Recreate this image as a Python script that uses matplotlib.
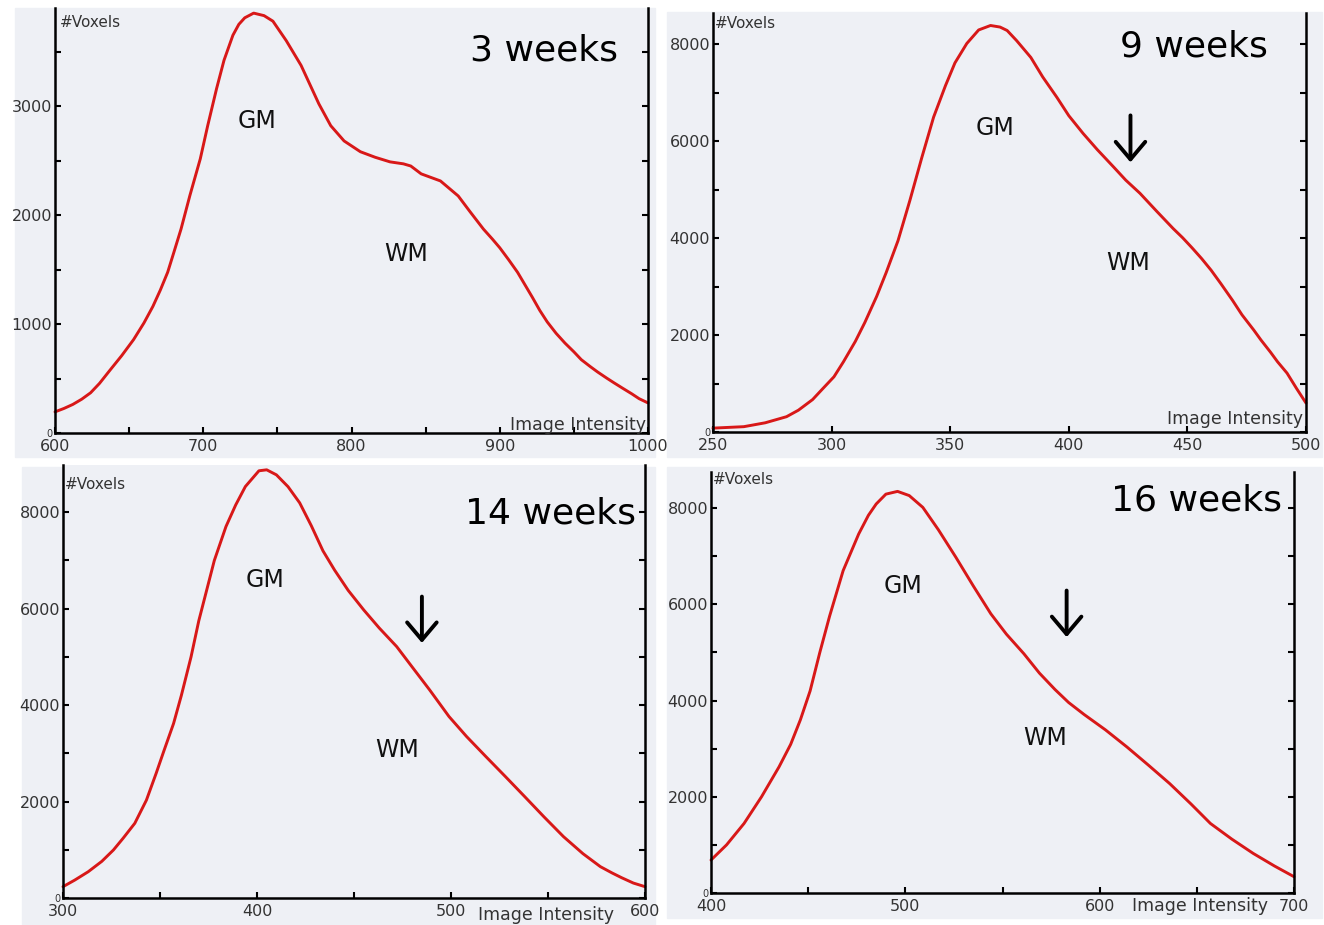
### FOUR VOXEL INTENSITY HISTOGRAMS (3, 9, 14, 16 WEEKS)

import matplotlib
matplotlib.use('Agg')
from matplotlib import pyplot as plt
from matplotlib.patches import Rectangle
from matplotlib.ticker import MultipleLocator


## DATA
# 3 weeks
x_3wk = [600, 606, 612, 618, 624, 630, 637, 645, 653, 660, 666, 671, 676, 680, 685, 691,
         698, 703, 709, 714, 720, 724, 728, 734, 741, 747, 756, 766, 778, 786, 795, 806,
         816, 826, 835, 840, 847, 860, 872, 880, 889, 895, 900, 906, 912, 917, 922, 927,
         932, 938, 944, 950, 955, 961, 966, 972, 977, 983, 989, 994, 1000]
y_3wk = [194, 225, 262, 310, 369, 455, 575, 710, 857, 1010, 1161, 1310, 1475, 1650, 1871, 2180,
         2516, 2820, 3161, 3420, 3650, 3750, 3810, 3853, 3830, 3779, 3600, 3373, 3020, 2820, 2680, 2581,
         2530, 2488, 2470, 2450, 2378, 2313, 2175, 2030, 1871, 1780, 1700, 1590, 1475, 1360, 1245, 1125,
         1020, 915, 825, 745, 673, 610, 560, 505, 461, 410, 360, 315, 276]

# 9 weeks
x_9wk = [250, 263, 272, 281, 286, 292, 296, 301, 305, 310, 314, 319, 323, 328, 333, 338,
         343, 348, 352, 357, 362, 367, 371, 374, 378, 384, 389, 395, 400, 406, 412, 419,
         424, 430, 437, 444, 448, 452, 456, 460, 464, 469, 473, 478, 481, 485, 488, 492,
         496, 500]
y_9wk = [80, 110, 190, 316, 450, 670, 880, 1140, 1450, 1870, 2260, 2800, 3290, 3950, 4780, 5660,
         6500, 7150, 7620, 8021, 8300, 8392, 8360, 8289, 8080, 7732, 7330, 6907, 6530, 6165, 5830, 5465,
         5200, 4928, 4560, 4200, 4010, 3800, 3580, 3340, 3070, 2720, 2420, 2103, 1900, 1650, 1450, 1216,
         900, 598]

# 14 weeks
x_14wk = [300, 306, 313, 320, 326, 331, 337, 343, 348, 352, 357, 361, 366, 370, 378, 384,
          389, 394, 401, 405, 410, 416, 422, 428, 434, 440, 447, 455, 463, 472, 480, 489,
          499, 508, 518, 528, 538, 548, 558, 568, 577, 583, 588, 594, 600]
y_14wk = [235, 370, 545, 760, 996, 1240, 1549, 2030, 2584, 3050, 3620, 4200, 5000, 5750, 7000, 7703,
          8150, 8533, 8860, 8880, 8776, 8530, 8195, 7720, 7200, 6800, 6380, 5975, 5600, 5214, 4790, 4315,
          3762, 3350, 2932, 2520, 2102, 1680, 1272, 920, 650, 520, 420, 310, 235]

# 16 weeks
x_16wk = [400, 408, 417, 426, 435, 441, 446, 451, 456, 461, 468, 476, 481, 485, 490, 496,
          502, 509, 517, 526, 535, 544, 552, 561, 569, 577, 584, 592, 603, 614, 625, 636,
          647, 657, 668, 679, 690, 700]
y_16wk = [685, 1000, 1445, 2000, 2621, 3090, 3600, 4200, 5000, 5750, 6700, 7462, 7850, 8085, 8290, 8347,
          8260, 8015, 7550, 6978, 6380, 5803, 5380, 4973, 4570, 4230, 3960, 3710, 3390, 3036, 2660, 2275,
          1850, 1445, 1120, 823, 560, 339]

titles = ['3 weeks', '9 weeks', '14 weeks', '16 weeks']
ylabel = '#Voxels'
xlabel = 'Image Intensity'


## LAYOUT (pixel boxes measured from the 1324x925 picture)
W, H = 1324, 925
BG = '#eef0f5'
RED = '#d81818'
TXT = '#333333'

panels = [
    dict(x=x_3wk, y=y_3wk, box=(55, 648, 8, 433), bg=(15, 655, 8, 457),
         xlim=(600, 1000), xmaj=100, xmin=50, ylim=(0, 3900), ymaj=1000, ymin=500, ymax_lab=3000,
         title=(0.95, 0.90), gm=(736, 2866), wm=(837, 1640), arrow=None,
         xlab=(0.997, 0.02, 'right', 'center'), vox=(0.008, 0.967)),
    dict(x=x_9wk, y=y_9wk, box=(713, 1306, 13, 432), bg=(667, 1322, 12, 457),
         xlim=(250, 500), xmaj=50, xmin=None, ylim=(0, 8650), ymaj=2000, ymin=1000, ymax_lab=8000,
         title=(0.936, 0.92), gm=(369, 6268), wm=(425, 3485), arrow=(426, 6536, 5567),
         xlab=(0.995, 0.03, 'right', 'center'), vox=(0.004, 0.976)),
    dict(x=x_14wk, y=y_14wk, box=(63, 645, 465, 898), bg=(22, 655, 467, 925),
         xlim=(300, 600), xmaj=100, xmin=50, ylim=(0, 8980), ymaj=2000, ymin=1000, ymax_lab=8000,
         title=(0.985, 0.889), gm=(404, 6597), wm=(472, 3070), arrow=(485, 6251, 5290),
         xlab=(0.83, -0.039, 'center', 'center'), vox=(0.004, 0.956)),
    dict(x=x_16wk, y=y_16wk, box=(711, 1294, 472, 893), bg=(667, 1322, 467, 918),
         xlim=(400, 700), xmaj=100, xmin=50, ylim=(0, 8750), ymaj=2000, ymin=1000, ymax_lab=8000,
         title=(0.979, 0.933), gm=(499, 6390), wm=(572, 3216), arrow=(583, 6286, 5318),
         xlab=(0.839, -0.031, 'center', 'center'), vox=(0.003, 0.981)),
]


def toFig(box):
    '''
    Converts a pixel box (left, right, top, bottom) into figure fractions
    :param box: pixel box
    :return: [left, bottom, width, height]
    '''
    l, r, t, b = box
    return [l / W, 1 - b / H, (r - l) / W, (b - t) / H]


def drawPanel(fig, p, title):
    '''
    Draws one histogram panel
    :param fig: the figure
    :param p: dict with data and layout of the panel
    :param title: big label in the corner
    '''
    # gray backdrop behind axis + tick labels
    bg = toFig(p['bg'])
    fig.patches.append(Rectangle(bg[:2], bg[2], bg[3], transform=fig.transFigure,
                                 color=BG, zorder=-10))

    ax = fig.add_axes(toFig(p['box']))
    ax.set_facecolor(BG)
    ax.plot(p['x'], p['y'], color=RED, lw=2.1, solid_joinstyle='round',
            solid_capstyle='round', clip_on=False)

    ax.set_xlim(*p['xlim'])
    ax.set_ylim(*p['ylim'])

    # spines: left, right, bottom only
    ax.spines['top'].set_visible(False)
    for s in ['left', 'right', 'bottom']:
        ax.spines[s].set_linewidth(1.8)
        ax.spines[s].set_color('black')

    xt = list(range(p['xlim'][0], p['xlim'][1] + 1, p['xmaj']))
    yt = list(range(0, p['ymax_lab'] + 1, p['ymaj']))
    ax.set_xticks(xt, [str(v) for v in xt])
    ax.set_yticks(yt, [str(v) for v in yt])
    if p['xmin']:
        ax.xaxis.set_minor_locator(MultipleLocator(p['xmin']))
    ax.yaxis.set_minor_locator(MultipleLocator(p['ymin']))

    ax.tick_params(which='both', direction='in', length=4, width=1.5, color='black',
                   right=True, top=False, labelsize=11.5, labelcolor=TXT)
    ax.tick_params(axis='x', pad=4)
    ax.tick_params(axis='y', pad=2)
    ax.get_yticklabels()[0].set_fontsize(7)

    # texts
    ax.text(*p['title'], title, transform=ax.transAxes, ha='right', va='center',
            fontsize=26, color='black')
    ax.text(*p['gm'], 'GM', ha='center', va='center', fontsize=17, color='#111111')
    ax.text(*p['wm'], 'WM', ha='center', va='center', fontsize=17, color='#111111')
    ax.text(*p['vox'], ylabel, transform=ax.transAxes, ha='left', va='center',
            fontsize=11, color=TXT)
    xl = p['xlab']
    ax.text(xl[0], xl[1], xlabel, transform=ax.transAxes, ha=xl[2], va=xl[3],
            fontsize=12.5, color=TXT, clip_on=False)

    if p['arrow']:
        ax_x, y_top, y_bot = p['arrow']
        ax.annotate('', xy=(ax_x, y_bot), xytext=(ax_x, y_top),
                    arrowprops=dict(arrowstyle='->,head_length=0.45,head_width=0.38',
                                    lw=2.8, color='black', mutation_scale=28,
                                    shrinkA=0, shrinkB=0))
    return ax


if __name__ == "__main__":
    fig = plt.figure(figsize=(W / 100, H / 100), dpi=100)
    fig.patch.set_facecolor('white')

    for p, t in zip(panels, titles):
        drawPanel(fig, p, t)

    fig.savefig('out.png', dpi=100)
